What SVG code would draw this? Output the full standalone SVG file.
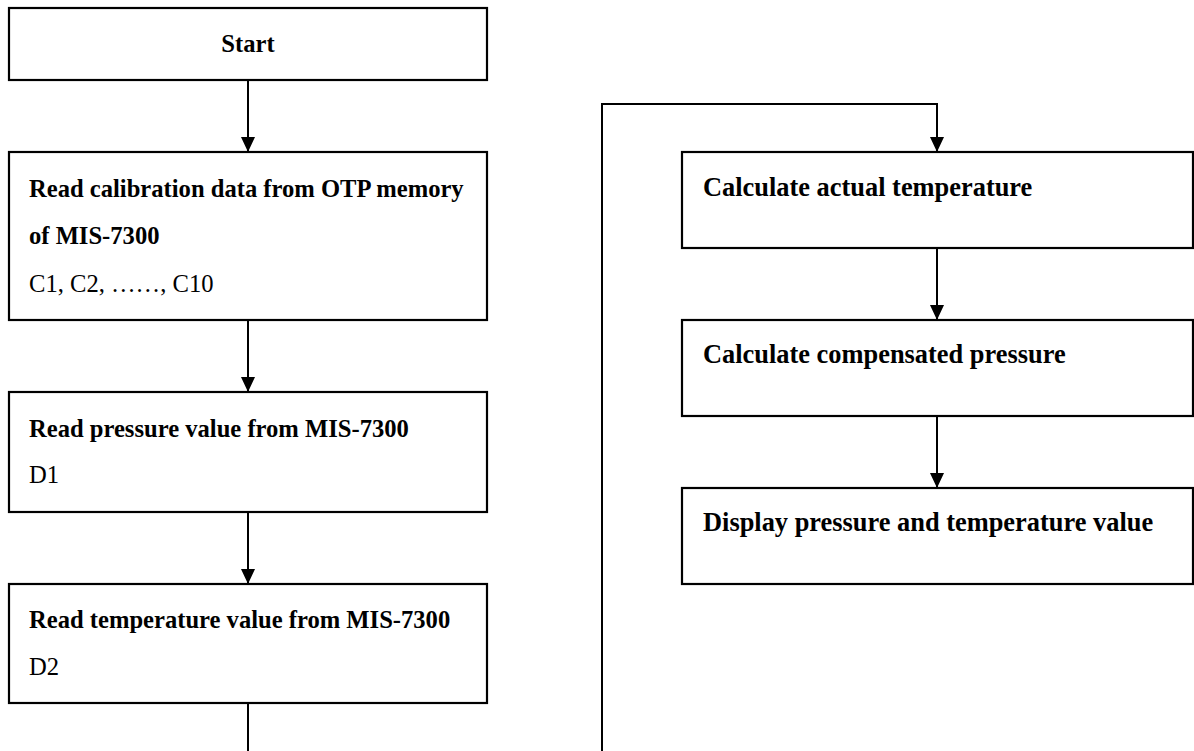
<svg xmlns="http://www.w3.org/2000/svg" width="1194" height="751" viewBox="0 0 1194 751">
<defs>
<marker id="ah" markerWidth="15" markerHeight="14" refX="15" refY="7" orient="auto" markerUnits="userSpaceOnUse" viewBox="0 0 15 14">
<path d="M0,0 L15,7 L0,14 Z" fill="#000"/>
</marker>
<style>
.box{fill:#fff;stroke:#000;stroke-width:2.2}
.b{font-family:"Liberation Serif","Times New Roman",serif;font-weight:bold;font-size:24.6px;fill:#000}
.r{font-family:"Liberation Serif","Times New Roman",serif;font-size:24.6px;fill:#000}
.br{font-family:"Liberation Serif","Times New Roman",serif;font-weight:bold;font-size:26.4px;fill:#000}
.c{fill:none;stroke:#000;stroke-width:2}
</style>
</defs>
<rect width="1194" height="751" fill="#fff"/>
<g id="connectors">
<path class="c" d="M248,80 V152" marker-end="url(#ah)"/>
<path class="c" d="M248,320 V392" marker-end="url(#ah)"/>
<path class="c" d="M248,512 V584" marker-end="url(#ah)"/>
<path class="c" d="M248,703 V751"/>
<path class="c" d="M602,751 V104 H937 V152" marker-end="url(#ah)"/>
<path class="c" d="M937,248 V320" marker-end="url(#ah)"/>
<path class="c" d="M937,416 V488" marker-end="url(#ah)"/>
</g>
<g id="start">
<rect class="box" x="9" y="8" width="478" height="72"/>
<text class="b" x="248" y="52" text-anchor="middle">Start</text>
</g>
<g id="read-calibration">
<rect class="box" x="9" y="152" width="478" height="168"/>
<text class="b" x="29" y="197">Read calibration data from OTP memory</text>
<text class="b" x="29" y="244">of MIS-7300</text>
<text class="r" x="29" y="292">C1, C2, ……, C10</text>
</g>
<g id="read-pressure">
<rect class="box" x="9" y="392" width="478" height="120"/>
<text class="b" x="29" y="437">Read pressure value from MIS-7300</text>
<text class="r" x="29" y="483">D1</text>
</g>
<g id="read-temperature">
<rect class="box" x="9" y="584" width="478" height="119"/>
<text class="b" x="29" y="628">Read temperature value from MIS-7300</text>
<text class="r" x="29" y="675">D2</text>
</g>
<g id="calc-temperature">
<rect class="box" x="682" y="152" width="511" height="96"/>
<text class="br" x="703" y="196">Calculate actual temperature</text>
</g>
<g id="calc-pressure">
<rect class="box" x="682" y="320" width="511" height="96"/>
<text class="br" x="703" y="363">Calculate compensated pressure</text>
</g>
<g id="display">
<rect class="box" x="682" y="488" width="511" height="96"/>
<text class="br" x="703" y="531">Display pressure and temperature value</text>
</g>
</svg>
